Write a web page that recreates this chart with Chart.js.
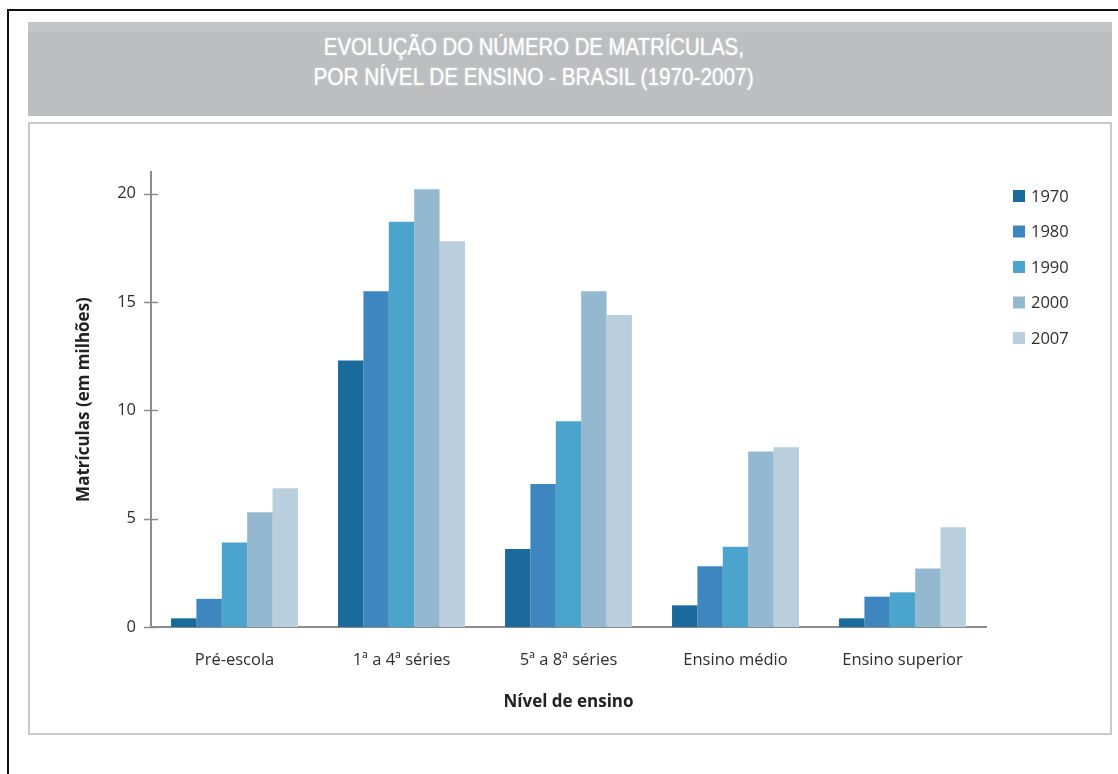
<!DOCTYPE html>
<html>
<head>
<meta charset="utf-8">
<script src="https://cdn.jsdelivr.net/npm/chart.js@4.4.1/dist/chart.umd.min.js"></script>
<style>
  html, body { margin: 0; padding: 0; background: #fff; }
  body { width: 1118px; height: 774px; position: relative; overflow: hidden; }
  .frame { position: absolute; left: 7px; top: 9px; width: 1200px; height: 900px;
    border-top: 2px solid #111; border-left: 2px solid #111; }
  .header { position: absolute; left: 28px; top: 22px; width: 1084px; height: 94px;
    background: #bcbec0; border-top: 10px solid #c3c5c7; box-sizing: border-box; }
  .title { position: absolute; left: 134px; width: 800px; top: 32px; text-align: center;
    color: #fff; font-family: "Liberation Sans Narrow", "Liberation Sans", Arial, sans-serif;
    font-size: 24px; line-height: 30px; white-space: nowrap;
    text-shadow: 0 0 2px rgba(255,255,255,0.7); }
  .title span { display: inline-block; transform-origin: center; }
  .panel { position: absolute; left: 28px; top: 122px; width: 1084px; height: 613px;
    border: 2px solid #c9c9c9; box-sizing: border-box; }
  #wrap { position: absolute; left: 28px; top: 122px; width: 1084px; height: 613px; }
</style>
</head>
<body>
<div class="frame"></div>
<div class="header"></div>
<div class="title">
  <span id="t1">EVOLUÇÃO DO NÚMERO DE MATRÍCULAS,</span><br>
  <span id="t2">POR NÍVEL DE ENSINO - BRASIL (1970-2007)</span>
</div>
<div class="panel"></div>
<div id="wrap"><canvas id="chart"></canvas></div>
<script>
// Data (milhões de matrículas)
const categories = ['Pré-escola', '1ª a 4ª séries', '5ª a 8ª séries', 'Ensino médio', 'Ensino superior'];
const years = ['1970', '1980', '1990', '2000', '2007'];
const s1970 = [0.4, 12.3, 3.6, 1.0, 0.4];
const s1980 = [1.3, 15.5, 6.6, 2.8, 1.4];
const s1990 = [3.9, 18.7, 9.5, 3.7, 1.6];
const s2000 = [5.3, 20.2, 15.5, 8.1, 2.7];
const s2007 = [6.4, 17.8, 14.4, 8.3, 4.6];
const yTicks = [0, 5, 10, 15, 20];

const seriesList = [s1970, s1980, s1990, s2000, s2007];
const barColors = ['#1a6b9b', '#3e86c0', '#4ba4cc', '#94b8cf', '#b9cfdd'];

// squeeze the header lines to the width seen in the picture
const fitLine = (id, target) => {
  const el = document.getElementById(id);
  const w = el.getBoundingClientRect().width;
  el.style.transform = `scaleX(${target / w})`;
};
fitLine('t1', 420);
fitLine('t2', 440);

const tickFont = { family: '"Open Sans", sans-serif', size: 16.5 };
const titleFont = { family: '"Open Sans", sans-serif', size: 17, weight: 'bold' };
const axisGray = '#8c8c8c';
const textColor = '#2e2e2e';

// small tick marks crossing the y axis
const yTickMarks = {
  id: 'yTickMarks',
  afterDatasetsDraw(c) {
    const y = c.scales.y;
    const x0 = c.chartArea.left;
    const ctx = c.ctx;
    ctx.save();
    ctx.strokeStyle = axisGray;
    ctx.lineWidth = 1.5;
    y.ticks.forEach((t) => {
      const py = Math.round(y.getPixelForValue(t.value)) + 0.5;
      ctx.beginPath();
      ctx.moveTo(x0 - 7, py);
      ctx.lineTo(x0 + 7, py);
      ctx.stroke();
    });
    ctx.restore();
  },
};

// legend on the right, drawn from the datasets
const sideLegend = {
  id: 'sideLegend',
  afterDraw(c) {
    const ctx = c.ctx;
    const left = c.chartArea.right + 27;
    const top = c.chartArea.top + 24;
    ctx.save();
    ctx.font = '16.5px "Open Sans", sans-serif';
    ctx.textBaseline = 'middle';
    c.data.datasets.forEach((ds, i) => {
      const cy = top + i * 35.5;
      ctx.fillStyle = ds.backgroundColor;
      ctx.fillRect(left, cy - 6, 12, 12);
      ctx.fillStyle = textColor;
      ctx.fillText(ds.label, left + 18, cy + 1);
    });
    ctx.restore();
  },
};

new Chart(document.getElementById('chart'), {
  type: 'bar',
  data: {
    labels: categories,
    datasets: seriesList.map((s, i) => ({
      label: years[i],
      data: s,
      backgroundColor: barColors[i],
      borderWidth: 0,
      barPercentage: 1.0,
      categoryPercentage: 0.76,
    })),
  },
  options: {
    responsive: true,
    maintainAspectRatio: false,
    animation: false,
    layout: {
      padding: { top: 50, right: 126, bottom: 18, left: 0 },
    },
    scales: {
      x: {
        grid: { display: false, drawTicks: false },
        border: { display: true, color: axisGray, width: 2 },
        ticks: { font: tickFont, color: textColor, padding: 23 },
        title: {
          display: true,
          text: 'Nível de ensino',
          font: titleFont,
          color: '#222',
          padding: { top: 0, bottom: 5 },
        },
        afterFit: (s) => { s.height = 90; },
      },
      y: {
        min: 0,
        max: 21,
        grid: { display: false, drawTicks: false },
        border: { display: true, color: axisGray, width: 2 },
        ticks: { font: tickFont, color: textColor, padding: 15 },
        afterBuildTicks: (s) => { s.ticks = yTicks.map((v) => ({ value: v })); },
        title: {
          display: true,
          text: 'Matrículas (em milhões)',
          font: titleFont,
          color: '#222',
          padding: { top: 46, bottom: 0 },
        },
        afterFit: (s) => { s.width = 123; },
      },
    },
    plugins: {
      legend: { display: false },
      tooltip: { enabled: false },
    },
  },
  plugins: [yTickMarks, sideLegend],
});
</script>
</body>
</html>
